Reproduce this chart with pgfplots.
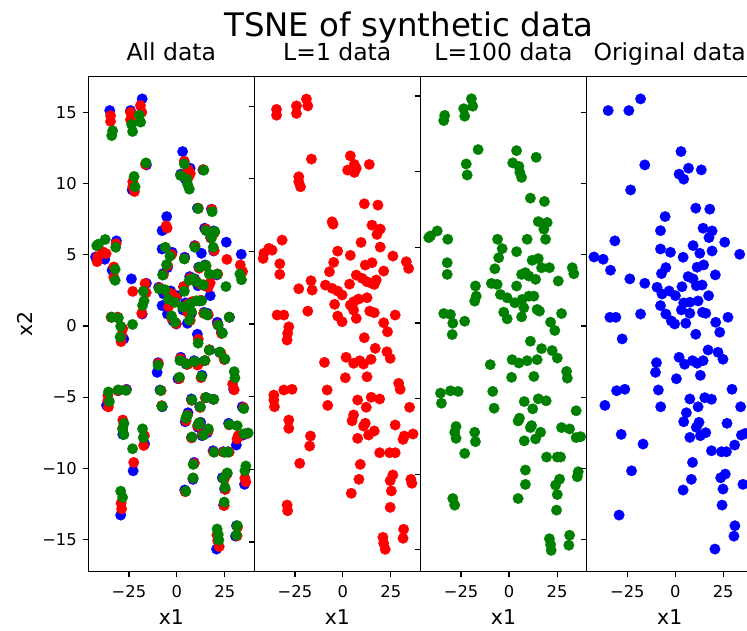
\documentclass[border=0pt]{standalone}
\usepackage{fontspec}
\setmainfont{DejaVu Sans}
\usepackage{pgfplots}
\usepackage{pgfplotstable}
\pgfplotsset{compat=1.18}

\definecolor{mplblue}{RGB}{0,0,255}
\definecolor{mplred}{RGB}{255,0,0}
\definecolor{mplgreen}{RGB}{0,128,0}

\pgfplotstableread{
x y
-34.6 14.78
-34.6 14.38
-24.2 15.02
-24.2 14.50
-19.0 15.49
-18.3 15.02
-16.4 11.36
3.9 11.58
6.0 10.99
2.5 10.60
6.0 10.44
7.0 10.72
13.8 10.99
-23.0 10.14
-23.0 9.79
-22.1 9.45
11.2 8.28
18.3 8.19
-5.6 7.04
-5.1 6.88
15.2 6.81
19.5 6.54
17.8 6.17
-31.7 5.78
9.5 5.62
-41.2 4.87
-38.6 5.21
-36.9 5.09
-41.6 4.52
-2.7 5.02
3.9 4.73
19.5 5.30
26.1 4.68
33.1 4.29
34.3 3.83
-32.9 4.15
-32.9 3.42
-4.8 4.25
-7.0 3.60
11.7 4.06
15.2 4.22
21.3 3.65
-23.0 2.43
-16.6 2.98
-16.0 2.34
-9.1 2.68
-5.6 2.46
-2.7 2.27
-0.4 2.00
3.5 2.75
7.0 3.37
10.0 3.15
12.6 2.91
15.2 2.80
17.4 3.03
16.4 2.73
-4.3 1.36
3.9 1.31
5.6 1.53
8.2 1.72
12.6 1.81
-18.3 0.89
-34.3 0.62
-30.8 0.62
-2.7 0.55
5.6 0.96
7.0 0.39
14.0 0.89
16.4 0.78
27.3 0.62
-28.2 -0.19
21.3 0.09
-0.4 0.16
-28.8 -0.64
-29.1 -1.10
23.3 -0.53
11.2 -0.94
16.9 -1.67
23.0 -1.91
24.7 -2.36
-9.6 -2.64
1.7 -2.29
5.6 -2.70
8.8 -2.53
10.8 -2.75
14.7 -2.43
1.3 -3.70
12.6 -3.63
29.1 -4.08
29.9 -4.49
-36.0 -4.89
-36.0 -5.23
-35.7 -5.69
-30.8 -4.54
-26.5 -4.49
-8.2 -4.54
-7.9 -5.60
7.7 -5.23
12.2 -5.73
14.8 -5.04
19.2 -5.16
34.8 -5.73
5.6 -6.26
4.8 -6.66
11.7 -6.83
10.8 -7.02
-28.2 -6.61
-28.2 -7.18
16.4 -7.36
13.4 -7.64
7.7 -7.87
27.3 -6.95
-16.9 -7.71
-17.3 -8.40
31.4 -7.94
32.0 -7.71
36.6 -7.57
19.2 -8.86
24.4 -8.86
27.3 -8.86
-22.5 -9.59
9.1 -9.66
26.1 -10.39
24.7 -10.78
35.5 -10.69
36.0 -10.96
8.4 -10.69
25.3 -11.49
4.4 -11.65
-29.1 -12.46
-28.8 -12.85
24.7 -12.62
31.7 -14.13
31.4 -14.75
20.9 -14.68
21.3 -15.09
22.1 -15.51
}\dataRed

\pgfplotstableread{
x y
-19.6 14.82
-18.9 14.33
-23.6 14.16
-23.1 13.67
-33.5 13.72
-34.0 13.38
-16.1 11.46
3.9 11.39
14.1 10.95
1.9 10.58
5.1 10.35
5.6 9.95
6.5 9.62
-22.3 10.51
-21.8 9.78
11.1 8.25
18.4 8.03
15.2 6.70
19.8 6.64
18.1 6.20
19.0 5.53
-40.9 5.75
-37.4 6.08
-41.8 5.64
-31.9 5.53
-6.0 5.53
-3.6 4.91
-5.4 4.31
9.4 5.53
3.9 4.71
-32.2 3.98
-32.2 3.21
-7.4 3.58
12.0 4.14
15.2 4.25
16.9 3.65
21.0 3.65
32.9 3.65
33.7 3.25
25.6 2.77
6.5 3.21
10.3 3.10
13.8 2.88
8.5 3.32
-9.2 2.61
-6.2 2.55
3.9 2.44
-17.5 2.44
-17.1 1.77
-17.9 1.44
-4.5 1.88
-1.0 1.66
3.0 1.33
6.8 1.55
10.3 1.77
12.9 1.77
7.7 1.00
14.6 0.89
15.8 0.78
-2.8 0.71
-1.0 0.27
6.5 0.40
-34.0 0.62
-30.5 0.56
-29.3 -0.02
-29.6 -0.77
-23.1 0.11
27.3 0.62
21.6 0.05
23.8 -0.50
11.1 -1.21
16.9 -1.70
22.4 -1.83
25.1 -2.32
-9.8 -2.76
1.6 -2.43
5.1 -2.65
9.4 -2.50
14.6 -2.43
1.3 -3.60
12.9 -3.54
29.9 -3.21
30.3 -3.65
-35.7 -4.64
-35.2 -5.31
-30.5 -4.49
-26.5 -4.53
-8.5 -4.53
-7.8 -5.64
7.9 -5.20
12.3 -5.68
15.2 -5.02
19.3 -5.15
34.9 -5.81
5.4 -6.30
4.7 -6.48
11.7 -6.79
11.1 -6.92
-27.6 -6.85
-27.6 -7.63
-28.3 -7.23
-17.9 -7.23
-17.5 -7.85
16.4 -7.23
13.8 -7.67
7.9 -7.80
27.3 -6.92
31.5 -7.01
34.9 -7.58
37.2 -7.52
-23.1 -8.63
19.5 -8.87
25.1 -8.87
26.8 -8.87
8.5 -9.73
8.5 -10.68
26.3 -10.33
24.2 -10.72
36.0 -9.84
35.5 -10.17
25.1 -11.35
4.7 -11.61
-29.3 -11.61
-28.3 -12.05
24.7 -12.38
31.5 -14.04
31.1 -14.70
21.0 -14.27
21.6 -14.66
21.9 -15.04
}\dataGreen

\pgfplotstableread{
x y
-35.0 15.14
-24.2 15.14
-18.1 15.96
3.0 12.26
-15.9 11.32
6.9 11.09
13.6 10.97
2.0 10.67
4.4 10.32
-23.3 9.56
10.7 8.28
18.0 8.21
-5.3 7.69
-7.7 6.70
14.5 6.87
19.2 6.68
17.6 6.21
-31.5 5.98
25.8 5.89
9.3 5.65
12.8 5.11
-7.7 5.41
-2.5 5.18
4.1 4.83
19.2 5.27
33.6 5.04
-42.4 4.85
-37.6 4.69
-33.8 3.92
-4.9 4.10
-7.2 3.68
11.4 4.13
14.8 4.29
20.9 3.59
-23.7 3.31
-15.9 3.00
6.7 3.47
9.3 3.31
11.0 2.83
14.0 2.88
3.5 2.76
-9.5 2.72
-6.9 2.25
-3.2 2.46
0.1 2.13
17.4 2.13
-7.7 1.43
4.4 1.62
3.2 1.13
7.6 1.67
11.9 1.76
-4.9 0.84
-2.0 0.35
-0.3 0.14
7.6 0.89
14.2 0.96
15.9 0.89
-34.1 0.61
-31.0 0.61
-18.1 0.84
27.5 0.61
5.5 0.19
21.1 0.26
23.2 -0.44
10.7 -0.58
-27.7 -0.91
17.1 -1.69
22.3 -1.85
24.9 -2.34
2.0 -2.20
4.9 -2.69
9.0 -2.44
11.4 -2.62
14.5 -2.44
-9.8 -2.58
-10.3 -3.26
0.6 -3.71
13.1 -3.47
29.6 -4.45
-30.6 -4.55
-26.3 -4.45
-8.8 -4.50
-36.7 -5.58
-7.6 -5.68
7.6 -5.13
15.4 -5.04
18.9 -5.15
11.9 -5.68
34.1 -5.68
5.8 -6.10
4.4 -6.73
12.4 -6.77
11.0 -7.12
27.0 -6.84
15.9 -7.50
13.1 -7.71
-28.2 -7.62
-16.8 -8.30
7.6 -7.83
34.5 -7.67
36.6 -7.55
31.0 -8.37
18.9 -8.77
24.1 -8.84
26.7 -8.84
-22.8 -10.18
9.0 -9.59
8.4 -10.78
4.1 -11.53
26.1 -10.41
23.7 -10.67
24.9 -11.46
35.3 -11.13
24.4 -12.59
-29.3 -13.29
31.1 -14.04
30.6 -14.77
20.7 -15.68
}\dataBlue

\pgfplotsset{
  panel/.style={
    scale only axis, width=166pt, height=495pt,
    anchor=south west,
    xmin=-46.2, xmax=40.4,
    xtick={-25,0,25}, xticklabels={−25,0,25},
    ytick={-15,-10,-5,0,5,10,15},
    tick pos=left, tick align=outside,
    major tick length=5.7pt,
    every tick/.style={black, line width=1.2pt},
    axis line style={line width=1.2pt, black},
    clip marker paths=true,
    ticklabel style={font=\fontsize{16.3}{19}\selectfont},
    xticklabel style={anchor=north, inner sep=0pt, yshift=-8.1pt},
    yticklabel style={anchor=east, inner sep=0pt, xshift=-5.7pt},
    xlabel={x1},
    xlabel style={font=\fontsize{20.4}{24}\selectfont, at={(axis description cs:0.5,-0.0909)}, anchor=center},
    title style={font=\fontsize{23.5}{28}\selectfont, at={(axis description cs:0.5,1)}, anchor=base, yshift=9.7pt},
  },
  bm/.style={only marks, mark=*, mark size=5.3pt, color=mplblue, mark options={solid, fill=mplblue, draw=mplblue, line width=0.2pt}},
  rm/.style={only marks, mark=*, mark size=5.3pt, color=mplred, mark options={solid, fill=mplred, draw=mplred, line width=0.2pt}},
  gm/.style={only marks, mark=*, mark size=5.3pt, color=mplgreen, mark options={solid, fill=mplgreen, draw=mplgreen, line width=0.2pt}},
}

\begin{document}
\begin{tikzpicture}
\begin{axis}[panel, at={(88.3pt,58.3pt)}, ymin=-17.27, ymax=17.52,
  yticklabels={−15,−10,−5,0,5,10,15},
  ylabel={x2},
  ylabel style={font=\fontsize{20.4}{24}\selectfont, at={(axis description cs:-0.381,0.5)}, anchor=center},
  title={All data}]
\addplot[bm] table {\dataBlue};
\addplot[rm] table {\dataRed};
\addplot[gm] table {\dataGreen};
\end{axis}
\begin{axis}[panel, at={(254.3pt,58.3pt)}, ymin=-17.05, ymax=17.03,
  yticklabels={}, title={L=1 data}]
\addplot[rm] table {\dataRed};
\end{axis}
\begin{axis}[panel, at={(420.3pt,58.3pt)}, width=166.4pt, ymin=-16.45, ymax=16.28,
  yticklabels={}, title={L=100 data}]
\addplot[gm] table {\dataGreen};
\end{axis}
\begin{axis}[panel, at={(586.7pt,58.3pt)}, ymin=-17.27, ymax=17.52,
  yticklabels={}, title={Original data}]
\addplot[bm] table {\dataBlue};
\end{axis}
\node[font=\fontsize{32.4}{38}\selectfont, anchor=base] at (409pt,593.3pt) {TSNE of synthetic data};
\pgfresetboundingbox
\useasboundingbox (0pt,0pt) rectangle (747pt,630pt);
\end{tikzpicture}
\end{document}
